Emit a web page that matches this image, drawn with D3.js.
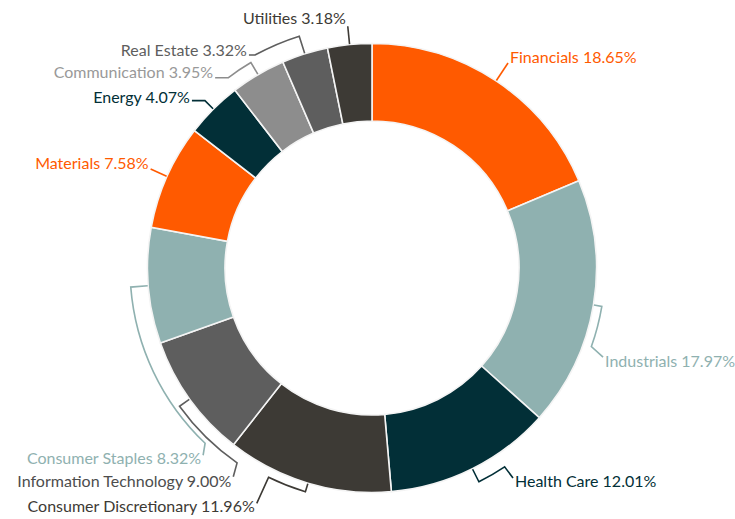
<!DOCTYPE html>
<html>
<head>
<meta charset="utf-8">
<script src="https://cdn.jsdelivr.net/npm/d3@7"></script>
<style>
  body { margin: 0; background: #fff; }
  text { font-family: Lato, "Open Sans", sans-serif; font-size: 16px; }
</style>
</head>
<body>
<svg></svg>
<script>
// sector weights, clockwise from 12 o'clock
const sectors = ["Financials", "Industrials", "Health Care", "Consumer Discretionary",
    "Information Technology", "Consumer Staples", "Materials", "Energy",
    "Communication", "Real Estate", "Utilities"];
const weights = [18.65, 17.97, 12.01, 11.96, 9.00, 8.32, 7.58, 4.07, 3.95, 3.32, 3.18];

const fills = ["#ff5a00", "#8fb1b0", "#022f37", "#3d3a35", "#5e5e5e", "#8fb1b0",
    "#ff5a00", "#022f37", "#8d8d8d", "#5e5e5e", "#3d3a35"];
const textColors = ["#ff5a00", "#8fb1b0", "#022f37", "#3d3a35", "#4d4d4d", "#8fb1b0",
    "#ff5a00", "#022f37", "#999999", "#5e5e5e", "#3d3a35"];

// leader layout: r = leader radius, end = where the bent leader stops (deg),
// off = last segment, ty = text centre offset
const leaders = {
    "Financials":             {r: 246, end: null,  off: [0, 0],      anchor: "start", ty: -5.5},
    "Industrials":            {r: 233, end: 109.7, off: [11.7, 10.5], anchor: "start", ty: 4.7},
    "Health Care":            {r: 239, end: 146.3, off: [8.4, 11.2],  anchor: "start", ty: 3},
    "Consumer Discretionary": {r: 233.5, end: 206.3, off: [-11.8, 26], anchor: "end", ty: 2.7},
    "Information Technology": {r: 237, end: 214.7, off: [-3.8, 13.9], anchor: "end", ty: 5},
    "Consumer Staples":       {r: 242, end: 223.6, off: [-2, 12],     anchor: "end", ty: 3.3},
    "Materials":              {r: 242.5, end: null, off: [0, 0],      anchor: "end", ty: -6},
    "Energy":                 {r: 236.5, end: null, off: [-13, 0],    anchor: "end", ty: -3},
    "Communication":          {r: 238.5, end: 322.9, off: [-13, 0],   anchor: "end", ty: -5},
    "Real Estate":            {r: 243, end: 331.2, off: [-6, 0],      anchor: "end", ty: -5},
    "Utilities":              {r: 243, end: null,  off: [0, 0],       anchor: "end", ty: -8}
};

const svgWidth = 735;
const svgHeight = 519;
const cx = 372, cy = 268;
const outerR = 224.5, innerR = 147;

const svg = d3.select("svg")
    .attr("width", svgWidth)
    .attr("height", svgHeight);

const g = svg.append("g").attr("transform", "translate(" + cx + "," + cy + ")");

const data = sectors.map((s, i) => ({sector: s, weight: weights[i], i: i}));

const color = d3.scaleOrdinal().domain(sectors).range(fills);
const tcolor = d3.scaleOrdinal().domain(sectors).range(textColors);

const pie = d3.pie()
    .sort(null)
    .value(d => d.weight);

const arc = d3.arc()
    .innerRadius(innerR)
    .outerRadius(outerR);

const arcs = pie(data);

g.selectAll(".slice")
    .data(arcs)
    .enter().append("path")
    .attr("class", "slice")
    .attr("d", arc)
    .attr("fill", d => color(d.data.sector))
    .attr("stroke", "#f4f4f4")
    .attr("stroke-width", 1.6);

const polar = (r, a) => [r * Math.sin(a), -r * Math.cos(a)];
const rad = deg => deg * Math.PI / 180;

arcs.forEach(d => {
    const L = leaders[d.data.sector];
    const mid = (d.startAngle + d.endAngle) / 2;
    const p = d3.path();
    const p0 = polar(outerR + 0.5, mid);
    const p1 = polar(L.r, mid);
    p.moveTo(p0[0], p0[1]);
    p.lineTo(p1[0], p1[1]);
    let last = p1;
    if (L.end !== null) {
        const endA = rad(L.end);
        p.arc(0, 0, L.r, mid - Math.PI / 2, endA - Math.PI / 2, endA < mid);
        last = polar(L.r, endA);
    }
    const fin = [last[0] + L.off[0], last[1] + L.off[1]];
    if (L.off[0] !== 0 || L.off[1] !== 0) p.lineTo(fin[0], fin[1]);

    g.append("path")
        .attr("d", p.toString())
        .attr("fill", "none")
        .attr("stroke", color(d.data.sector))
        .attr("stroke-width", 1.6);

    g.append("text")
        .attr("x", fin[0] + (L.anchor === "start" ? 2 : -2))
        .attr("y", fin[1] + L.ty)
        .attr("dy", "0.35em")
        .attr("text-anchor", L.anchor)
        .attr("fill", tcolor(d.data.sector))
        .text(d.data.sector + " " + d3.format(".2f")(d.data.weight) + "%");
});
</script>
</body>
</html>
